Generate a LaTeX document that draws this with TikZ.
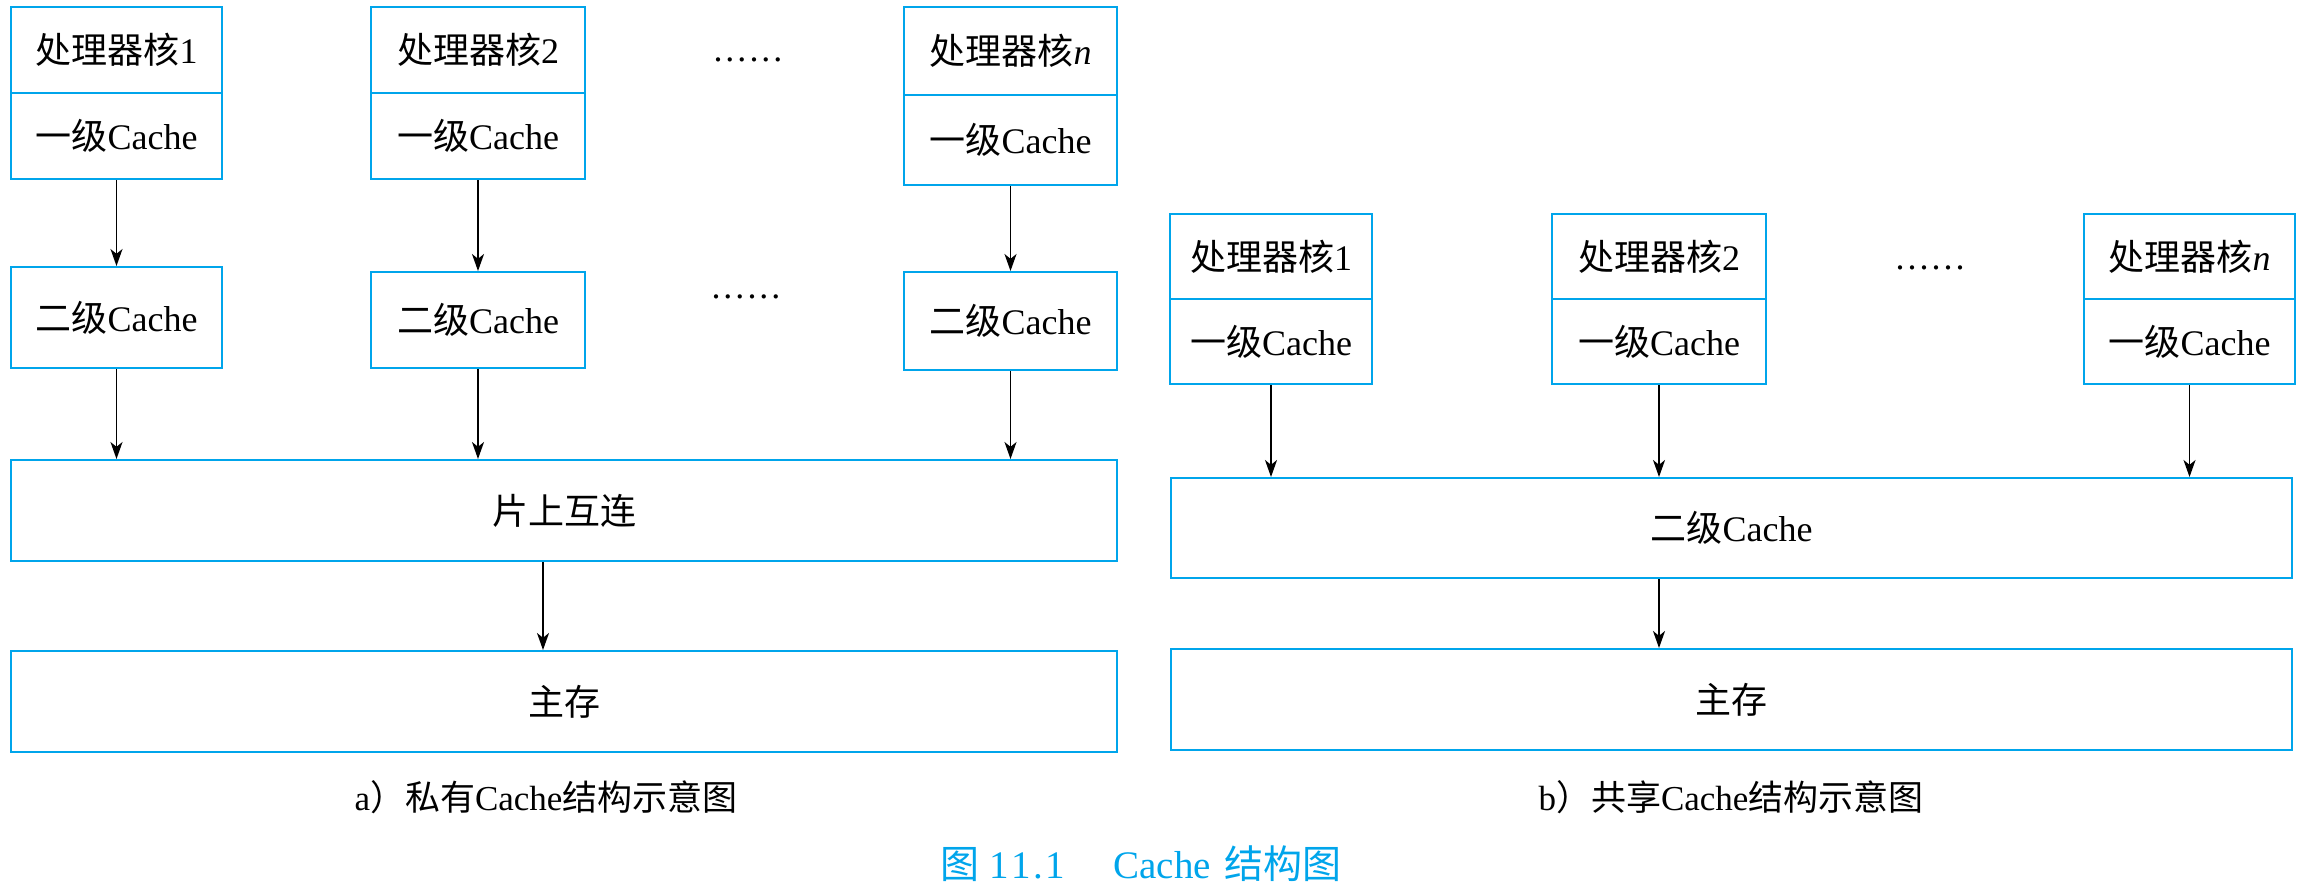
\documentclass[tikz,border=0pt]{standalone}
\usepackage{fontspec}
\setmainfont{Liberation Serif}
\newfontfamily\cjk{Noto Sans CJK SC}
\usetikzlibrary{arrows.meta}
\definecolor{bl}{RGB}{0,165,235}
\newcommand{\sixdots}{.\kern1.5pt.\kern1.5pt.\kern1.5pt.\kern1.5pt.\kern1.5pt.}
\begin{document}
\begin{tikzpicture}[x=0.5pt,y=-0.5pt,
  box/.style={draw=bl, line width=1pt, inner sep=0pt, font=\fontsize{18}{20}\selectfont},
  arr/.style={draw=black, line width=0.85pt, -{Stealth[length=8.5pt,width=6pt,inset=2.4pt]}},
  dotsn/.style={inner sep=0pt, font=\fontsize{18}{20}\selectfont},
  capt/.style={inner sep=0pt, font=\fontsize{17.5}{20}\selectfont},
  ttl/.style={inner sep=0pt, text=bl, font=\fontsize{19.5}{22}\selectfont}]
\useasboundingbox (0,0) rectangle (2306,891);

% ---------- left panel: private cache ----------
\node[box, minimum width=105.5pt, minimum height=43pt] (a1c) at (116.5,50) {{\cjk 处理器核}1};
\node[box, minimum width=105.5pt, minimum height=43pt] (a1l) at (116.5,136) {{\cjk 一级}Cache};
\node[box, minimum width=107pt, minimum height=43pt] (a2c) at (478,50) {{\cjk 处理器核}2};
\node[box, minimum width=107pt, minimum height=43pt] (a2l) at (478,136) {{\cjk 一级}Cache};
\node[box, minimum width=106.5pt, minimum height=44pt] (anc) at (1010.5,51) {{\cjk 处理器核}\textit{n}};
\node[box, minimum width=106.5pt, minimum height=45pt] (anl) at (1010.5,140) {{\cjk 一级}Cache};

\node[dotsn] (ad1) at (748,60) {\sixdots};
\node[dotsn] (ad2) at (746,297) {\sixdots};

\node[box, minimum width=105.5pt, minimum height=50.5pt] (a1s) at (116.5,317.5) {{\cjk 二级}Cache};
\node[box, minimum width=107pt, minimum height=48pt] (a2s) at (478,320) {{\cjk 二级}Cache};
\node[box, minimum width=106.5pt, minimum height=49pt] (ans) at (1010.5,321) {{\cjk 二级}Cache};

\node[box, minimum width=553pt, minimum height=50.5pt] (ic) at (564,510.5) {\cjk 片上互连};
\node[box, minimum width=553pt, minimum height=50.5pt] (meml) at (564,701.5) {\cjk 主存};

\draw[arr] (a1l.south) -- (a1s.north);
\draw[arr] (a2l.south) -- (a2s.north);
\draw[arr] (anl.south) -- (ans.north);
\draw[arr] (a1s.south) -- (a1s.south |- ic.north);
\draw[arr] (a2s.south) -- (a2s.south |- ic.north);
\draw[arr] (ans.south) -- (ans.south |- ic.north);
\draw[arr] ([xshift=-10.5pt]ic.south) -- ([xshift=-10.5pt]meml.north);

\node[capt] (capa) at (546,797) {a{\cjk ）私有}Cache{\cjk 结构示意图}};

% ---------- right panel: shared cache ----------
\node[box, minimum width=101pt, minimum height=42.5pt] (b1c) at (1271,256.5) {{\cjk 处理器核}1};
\node[box, minimum width=101pt, minimum height=42.5pt] (b1l) at (1271,341.5) {{\cjk 一级}Cache};
\node[box, minimum width=107pt, minimum height=42.5pt] (b2c) at (1659,256.5) {{\cjk 处理器核}2};
\node[box, minimum width=107pt, minimum height=42.5pt] (b2l) at (1659,341.5) {{\cjk 一级}Cache};
\node[box, minimum width=105.5pt, minimum height=42.5pt] (bnc) at (2189.5,256.5) {{\cjk 处理器核}\textit{n}};
\node[box, minimum width=105.5pt, minimum height=42.5pt] (bnl) at (2189.5,341.5) {{\cjk 一级}Cache};

\node[dotsn] (bd) at (1930,268) {\sixdots};

\node[box, minimum width=560.5pt, minimum height=50pt] (l2s) at (1731.5,528) {{\cjk 二级}Cache};
\node[box, minimum width=560.5pt, minimum height=50.5pt] (memr) at (1731.5,699.5) {\cjk 主存};

\draw[arr] (b1l.south) -- (b1l.south |- l2s.north);
\draw[arr] (b2l.south) -- (b2l.south |- l2s.north);
\draw[arr] (bnl.south) -- (bnl.south |- l2s.north);
\draw[arr] (l2s.south -| b2l.south) -- (memr.north -| b2l.south);

\node[capt] (capb) at (1731,797) {b{\cjk ）共享}Cache{\cjk 结构示意图}};

% ---------- figure title ----------
\node[ttl] (title) at (1141,864) {{\cjk 图}\hspace{5pt}1\kern1.5pt1\kern1pt.\kern1.5pt1\hspace{24pt}Cache\hspace{7pt}{\cjk 结构图}};
\end{tikzpicture}
\end{document}
